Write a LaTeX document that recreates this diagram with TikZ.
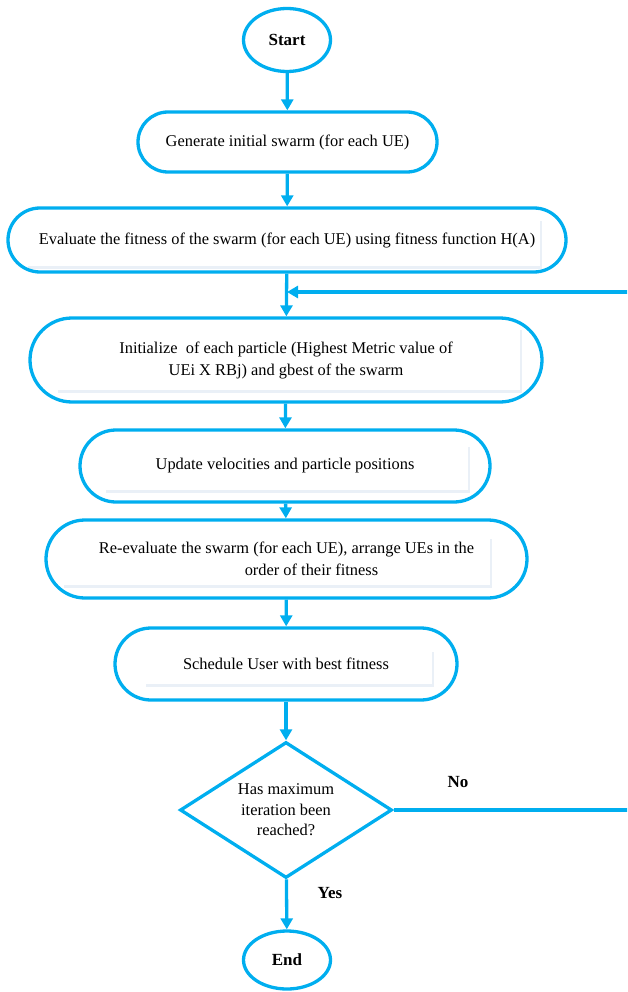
\documentclass[tikz,border=0pt]{standalone}
\usepackage{fontspec}
\setmainfont{Liberation Serif}
\usetikzlibrary{shapes.geometric,arrows.meta}
\definecolor{flowblue}{RGB}{0,174,239}
\definecolor{shadowc}{RGB}{234,240,247}
\tikzset{
  stadium/.style={draw=flowblue, line width=3.3pt, rectangle, inner sep=0pt,
    align=center, font=\fontsize{16.4}{22}\selectfont},
  term/.style={draw=flowblue, line width=3.3pt, ellipse, inner sep=0pt,
    font=\fontsize{17}{20}\selectfont\bfseries},
  decision/.style={draw=flowblue, line width=3.3pt, diamond, inner sep=0pt,
    align=center, font=\fontsize{16.4}{20.5}\selectfont},
  flow/.style={draw=flowblue, line width=3.3pt, -{Triangle[length=11pt,width=12pt]}},
  lbl/.style={font=\fontsize{17}{20}\selectfont\bfseries},
  innerbox/.style={fill=white},
  innershadow/.style={fill=shadowc}
}
\begin{document}
\begin{tikzpicture}[x=1pt,y=-1pt]
\useasboundingbox (0,0) rectangle (627,992);
\clip (0,0) rectangle (627,992);
% inner text panels
\foreach \xa/\ya/\xb/\yb in {27/220/540/266, 57/328/520/390, 105/445/468/490, 63/537/490/585, 145/650/432/684}{
  \fill[innershadow] (\xa+1,\ya+1.5) rectangle (\xb+1.5,\yb+2.5);
  \fill[innerbox] (\xa,\ya) rectangle (\xb,\yb);
}
% nodes
\node[term, minimum width=87pt, minimum height=63pt] (start) at (287,40) {Start};
\node[stadium, minimum width=299pt, minimum height=60pt, rounded corners=30pt] (b1) at (287.5,142)
  {Generate initial swarm (for each UE)};
\node[stadium, minimum width=558pt, minimum height=64pt, rounded corners=32pt] (b2) at (287,240)
  {Evaluate the fitness of the swarm (for each UE) using fitness function H(A)};
\node[stadium, minimum width=512pt, minimum height=84pt, rounded corners=42pt] (b3) at (286,360)
  {Initialize\ \ of each particle (Highest Metric value of\\UEi X RBj) and gbest of the swarm};
\node[stadium, minimum width=410pt, minimum height=72pt, rounded corners=36pt] (b4) at (285,466)
  {Update velocities and particle positions};
\node[stadium, minimum width=481pt, minimum height=78pt, rounded corners=39pt] (b5) at (286.5,559)
  {Re-evaluate the swarm (for each UE), arrange UEs in the\\\hspace*{50pt}order of their fitness};
\node[stadium, minimum width=342pt, minimum height=72pt, rounded corners=36pt] (b6) at (286,664)
  {Schedule User with best fitness};
\node[decision, minimum width=212pt, minimum height=136pt, aspect=1.56] (dia) at (286,810)
  {Has maximum\\iteration been\\reached?};
\node[term, minimum width=87pt, minimum height=58pt] (end) at (287,960) {End};
% labels
\node[lbl] (no) at (458,782) {No};
\node[lbl] (yes) at (330,893) {Yes};
% connectors
\coordinate (join) at (287,292);
\coordinate (loopcorner) at (640,810);
\draw[flow] (start) -- (b1);
\draw[flow] (b1) -- (b2);
\draw[flow] (b2) -- (b3);
\draw[flow] (b3) -- (b4);
\draw[flow] (b4) -- (b5);
\draw[flow] (b5) -- (b6);
\draw[flow] (b6) -- (dia);
\draw[flow] (dia) -- (end);
\draw[flow] (dia.east) -- (loopcorner) |- (join);
\end{tikzpicture}
\end{document}
